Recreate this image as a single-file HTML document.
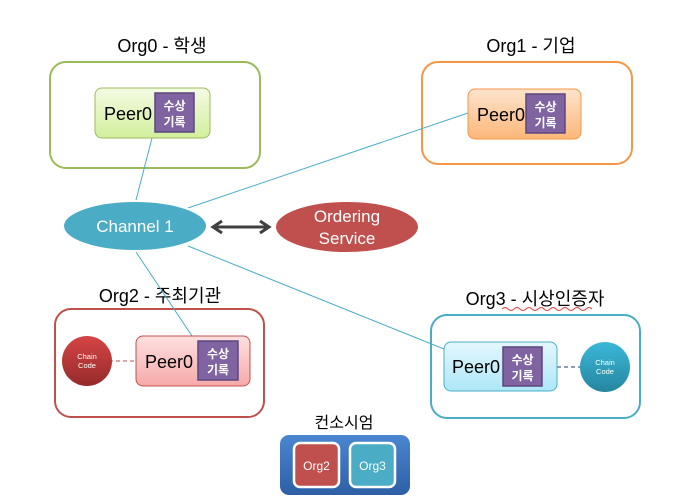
<!DOCTYPE html>
<html><head><meta charset="utf-8"><style>
body{margin:0;background:#fff;width:690px;height:499px;overflow:hidden;font-family:"Liberation Sans","Noto Sans CJK KR",sans-serif}
</style></head><body>
<svg width="690" height="499" xmlns="http://www.w3.org/2000/svg" style="font-family:'Liberation Sans','Noto Sans CJK KR',sans-serif">
<defs>
<linearGradient id="gg" x1="0" y1="0" x2="0" y2="1"><stop offset="0" stop-color="#f4fbe4"/><stop offset="1" stop-color="#d2ef9c"/></linearGradient>
<linearGradient id="og" x1="0" y1="0" x2="0" y2="1"><stop offset="0" stop-color="#fde4cc"/><stop offset="1" stop-color="#fbb77a"/></linearGradient>
<linearGradient id="rg" x1="0" y1="0" x2="0" y2="1"><stop offset="0" stop-color="#fde0e0"/><stop offset="1" stop-color="#f7a9a9"/></linearGradient>
<linearGradient id="bg" x1="0" y1="0" x2="0" y2="1"><stop offset="0" stop-color="#e4f7fd"/><stop offset="1" stop-color="#aee7f8"/></linearGradient>
<linearGradient id="cr" x1="0" y1="0" x2="0" y2="1"><stop offset="0" stop-color="#d64545"/><stop offset="1" stop-color="#962a2a"/></linearGradient>
<linearGradient id="cb" x1="0" y1="0" x2="0" y2="1"><stop offset="0" stop-color="#3bb8d8"/><stop offset="1" stop-color="#26869f"/></linearGradient>
<linearGradient id="bl" x1="0" y1="0" x2="0" y2="1"><stop offset="0" stop-color="#4a86d0"/><stop offset="1" stop-color="#2e5fa6"/></linearGradient>
</defs>
<g font-size="18" text-anchor="middle" fill="#000">
<text x="162" y="52">Org0 - 학생</text>
<text x="531" y="52">Org1 - 기업</text>
<text x="160" y="302">Org2 - 주최기관</text>
<text x="535" y="305">Org3 - 시상인증자</text>
<text x="344" y="428" font-size="16">컨소시엄</text>
</g>
<path d="M502 309 q3 -3 6 0 t6 0 t6 0 t6 0 t6 0 t6 0 t6 0 t6 0 t6 0 t6 0 t6 0 t6 0 t6 0 t6 0 t6 0" stroke="#e04040" fill="none" stroke-width="1"/>
<rect x="50" y="62" width="210" height="106" rx="16" fill="none" stroke="#9bbb59" stroke-width="2"/>
<rect x="422" y="62" width="210" height="102" rx="16" fill="none" stroke="#f79646" stroke-width="2"/>
<rect x="55" y="309" width="209" height="108" rx="16" fill="none" stroke="#c0504d" stroke-width="2"/>
<rect x="431" y="315" width="209" height="103" rx="16" fill="none" stroke="#4bacc6" stroke-width="2"/>
<g stroke="#4bacc6" stroke-width="1">
<line x1="152" y1="138" x2="136" y2="200"/>
<line x1="468" y1="113" x2="188" y2="208"/>
<line x1="136" y1="252" x2="192" y2="336"/>
<line x1="188" y1="246" x2="444" y2="349"/>
</g>
<line x1="109" y1="361" x2="136" y2="361" stroke="#c0504d" stroke-dasharray="4,3"/>
<line x1="557" y1="367" x2="581" y2="367" stroke="#1f3864" stroke-dasharray="4,3"/>
<g stroke-width="1">
<rect x="95" y="88" width="115" height="50" rx="7" fill="url(#gg)" stroke="#9bbb59"/>
<rect x="468" y="89" width="113" height="50" rx="7" fill="url(#og)" stroke="#f79646"/>
<rect x="136" y="336" width="114" height="50" rx="7" fill="url(#rg)" stroke="#c0504d"/>
<rect x="444" y="342" width="113" height="49" rx="7" fill="url(#bg)" stroke="#4bacc6"/>
</g>
<g font-size="18" fill="#000">
<text x="104" y="120">Peer0</text>
<text x="477" y="121">Peer0</text>
<text x="145" y="368">Peer0</text>
<text x="452" y="373">Peer0</text>
</g>
<g fill="#8064a2" stroke="#5c4680" stroke-width="1.5">
<rect x="155" y="93" width="39" height="39"/>
<rect x="526" y="94" width="39" height="39"/>
<rect x="198" y="341" width="40" height="39"/>
<rect x="503" y="347" width="39" height="39"/>
</g>
<g fill="#fff" font-size="12" font-weight="bold" text-anchor="middle">
<text x="174.5" y="110">수상</text><text x="174.5" y="126">기록</text>
<text x="545.5" y="111">수상</text><text x="545.5" y="127">기록</text>
<text x="218" y="358">수상</text><text x="218" y="374">기록</text>
<text x="522.5" y="364">수상</text><text x="522.5" y="380">기록</text>
</g>
<ellipse cx="135" cy="226" rx="72" ry="25" fill="#4bacc6" stroke="#fff" stroke-width="2"/>
<ellipse cx="347" cy="227" rx="72" ry="26" fill="#c0504d" stroke="#fff" stroke-width="2"/>
<text x="135" y="232" font-size="17" fill="#fff" text-anchor="middle">Channel 1</text>
<text x="347" y="222" font-size="17" fill="#fff" text-anchor="middle">Ordering</text>
<text x="347" y="244" font-size="17" fill="#fff" text-anchor="middle">Service</text>
<g stroke="#404040" stroke-width="3" fill="none">
<line x1="214" y1="227" x2="268" y2="227"/>
<polyline points="222,221 213,227 222,233"/>
<polyline points="260,221 269,227 260,233"/>
</g>
<circle cx="87" cy="361" r="25" fill="url(#cr)"/>
<circle cx="605" cy="367" r="25" fill="url(#cb)"/>
<g fill="#fff" font-size="7.5" text-anchor="middle">
<text x="87" y="359">Chain</text><text x="87" y="368">Code</text>
<text x="605" y="365">Chain</text><text x="605" y="374">Code</text>
</g>
<rect x="280" y="435" width="130" height="60" rx="9" fill="url(#bl)"/>
<rect x="294" y="443" width="45" height="44" rx="6" fill="#c0504d" stroke="#fff" stroke-width="2.5"/>
<rect x="350" y="443" width="45" height="44" rx="6" fill="#4bacc6" stroke="#fff" stroke-width="2.5"/>
<text x="316.5" y="470" fill="#fff" font-size="12" text-anchor="middle">Org2</text>
<text x="372.5" y="470" fill="#fff" font-size="12" text-anchor="middle">Org3</text>
</svg>
</body></html>
